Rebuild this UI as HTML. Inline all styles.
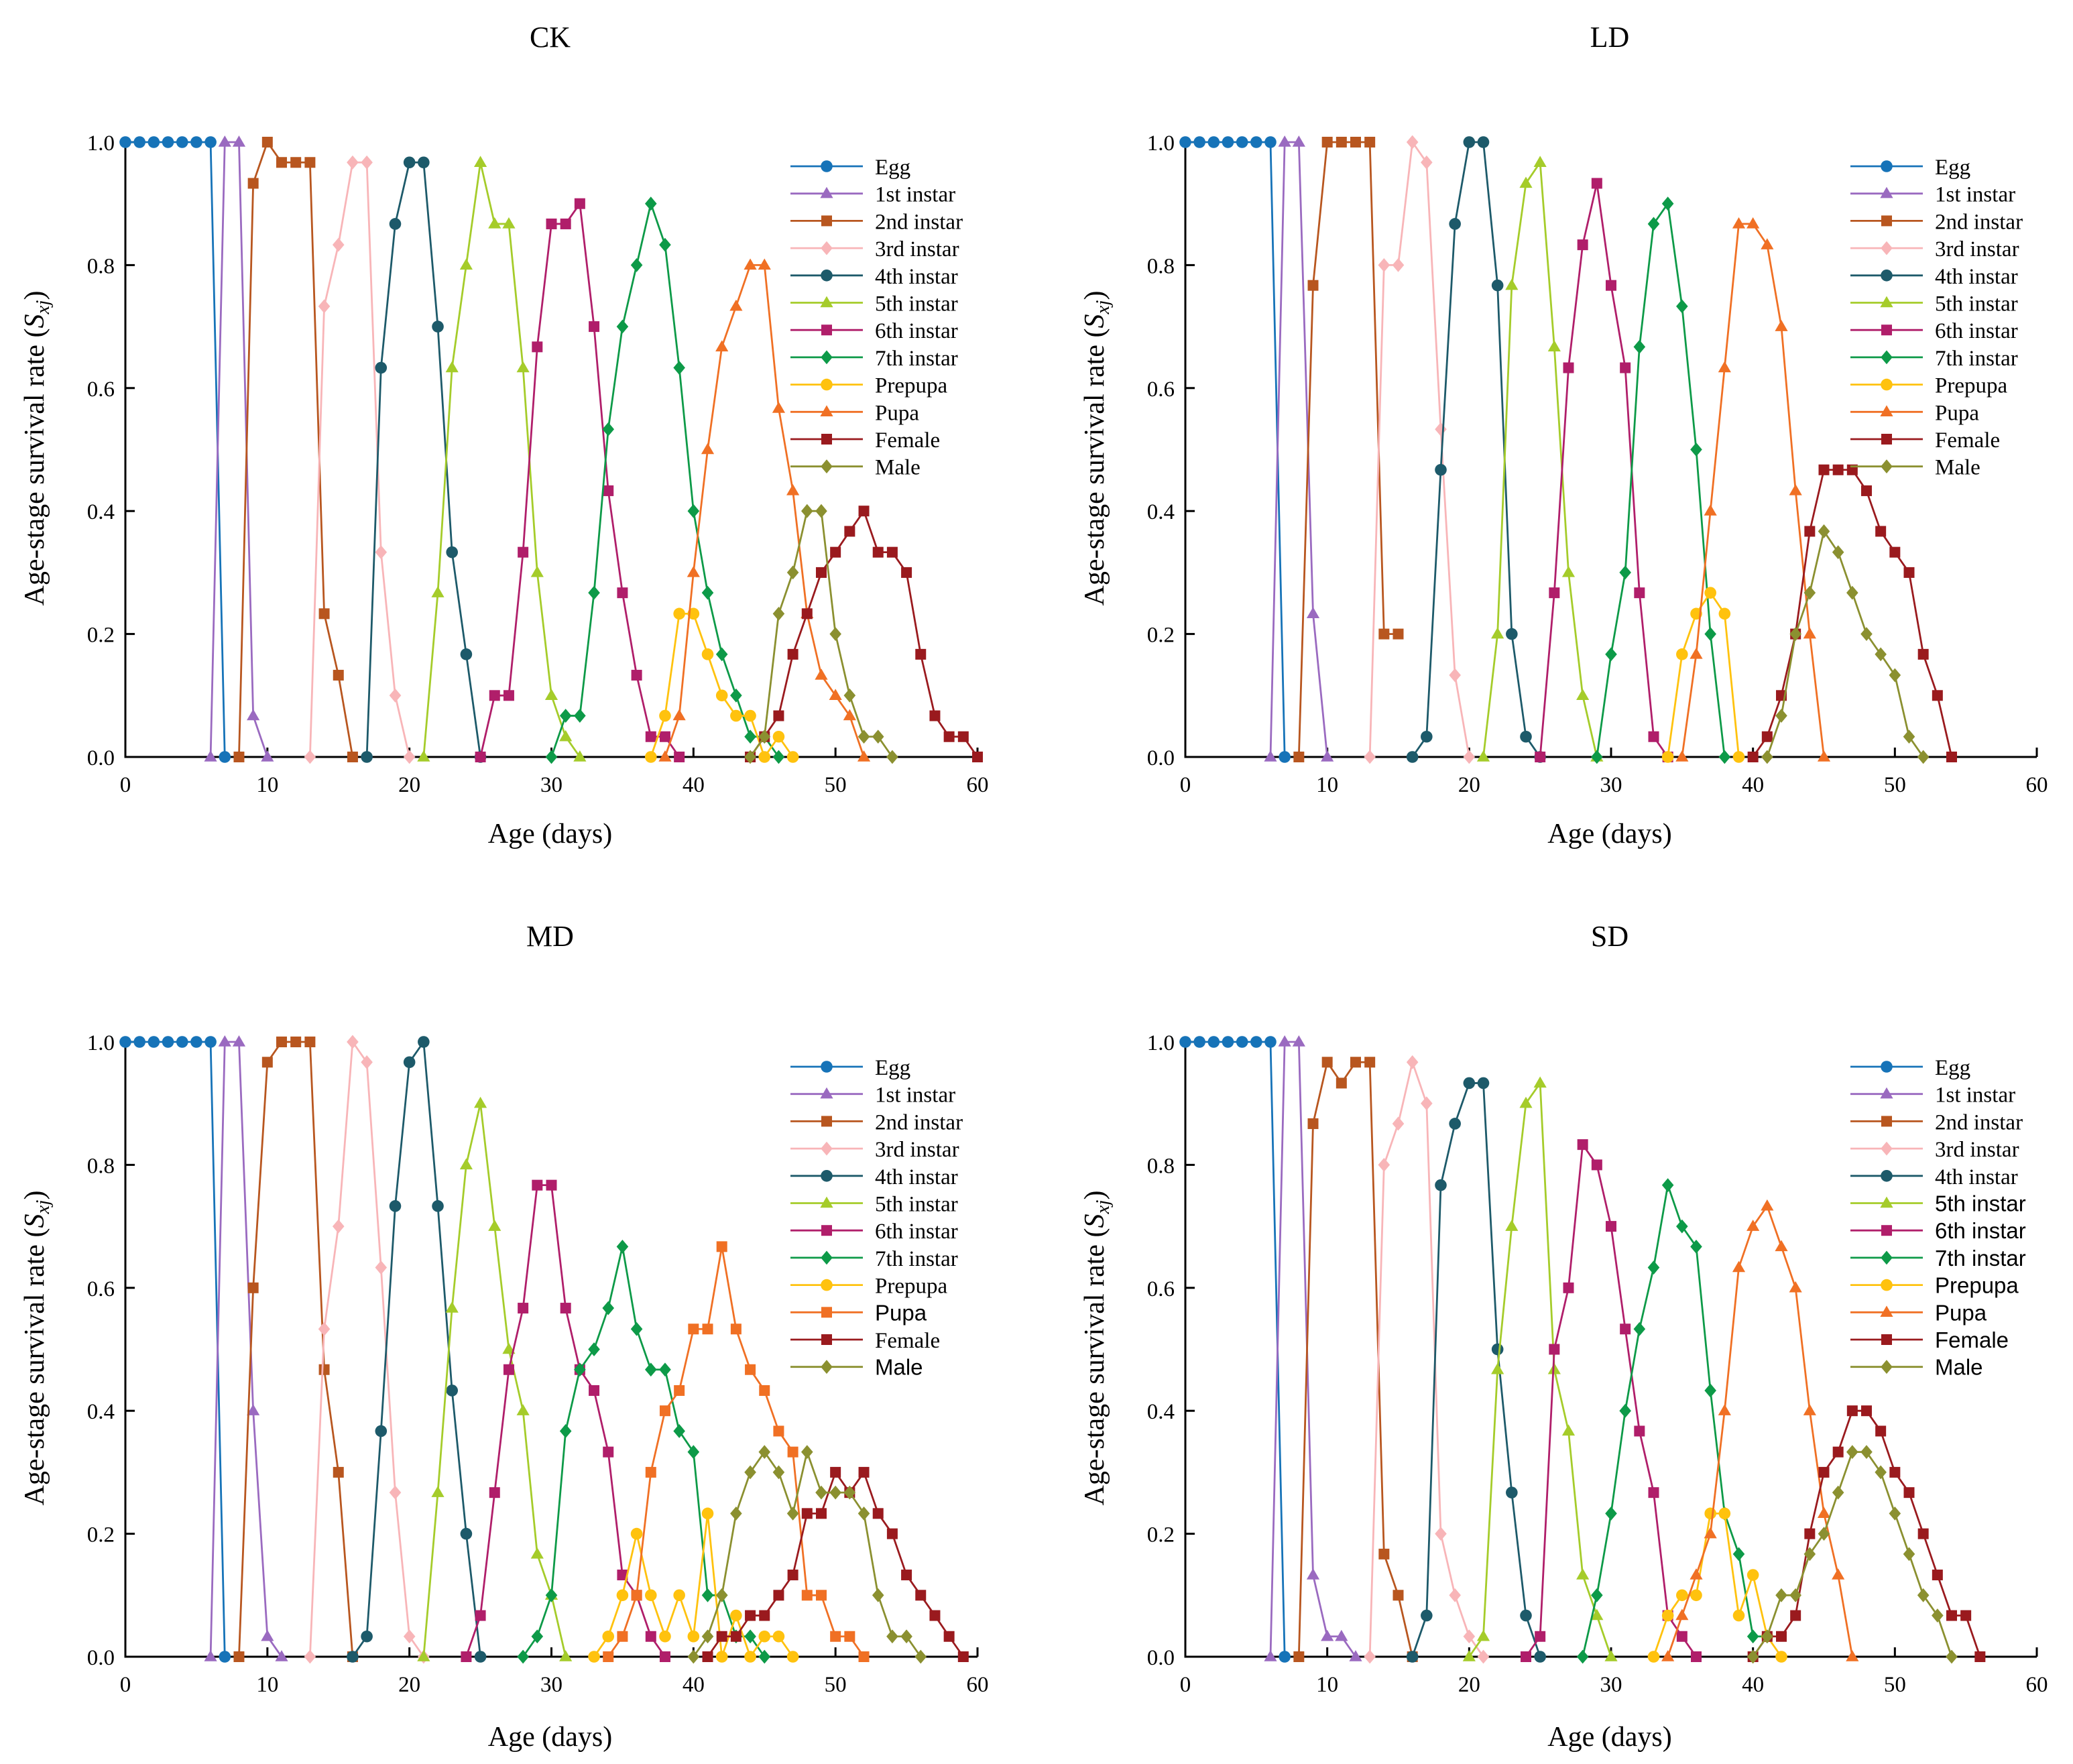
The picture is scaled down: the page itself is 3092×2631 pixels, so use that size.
<!DOCTYPE html>
<html><head><meta charset="utf-8">
<style>
html,body{margin:0;padding:0;background:#fff;}
svg{display:block;}
</style></head>
<body>
<svg id="chart" xmlns="http://www.w3.org/2000/svg" width="3092" height="2631" viewBox="0 0 3092 2631" font-family="'Liberation Serif', serif"></svg>
<script>
const stageNames = ["Egg","1st instar","2nd instar","3rd instar","4th instar","5th instar","6th instar","7th instar","Prepupa","Pupa","Female","Male"];
const xTicks = [0,10,20,30,40,50,60];
const yTicks = [0,0.2,0.4,0.6,0.8,1.0];
const yTickLabels = ["0.0","0.2","0.4","0.6","0.8","1.0"];

// CK
const ckStart = [0,6,8,13,17,21,25,30,37,38,44,44];
const ckEgg = [1,1,1,1,1,1,1,0];
const ck1st = [0,1,1,0.067,0];
const ck2nd = [0,0.933,1,0.967,0.967,0.967,0.233,0.133,0];
const ck3rd = [0,0.733,0.833,0.967,0.967,0.333,0.1,0];
const ck4th = [0,0.633,0.867,0.967,0.967,0.7,0.333,0.167,0];
const ck5th = [0,0.267,0.633,0.8,0.967,0.867,0.867,0.633,0.3,0.1,0.033,0];
const ck6th = [0,0.1,0.1,0.333,0.667,0.867,0.867,0.9,0.7,0.433,0.267,0.133,0.033,0.033,0];
const ck7th = [0,0.067,0.067,0.267,0.533,0.7,0.8,0.9,0.833,0.633,0.4,0.267,0.167,0.1,0.033,0.033,0];
const ckPrepupa = [0,0.067,0.233,0.233,0.167,0.1,0.067,0.067,0,0.033,0];
const ckPupa = [0,0.067,0.3,0.5,0.667,0.733,0.8,0.8,0.567,0.433,0.233,0.133,0.1,0.067,0];
const ckFemale = [0,0.033,0.067,0.167,0.233,0.3,0.333,0.367,0.4,0.333,0.333,0.3,0.167,0.067,0.033,0.033,0];
const ckMale = [0,0.033,0.233,0.3,0.4,0.4,0.2,0.1,0.033,0.033,0];

// LD
const ldStart = [0,6,8,13,16,21,25,29,34,35,40,41];
const ldEgg = [1,1,1,1,1,1,1,0];
const ld1st = [0,1,1,0.233,0];
const ld2nd = [0,0.767,1,1,1,1,0.2,0.2];
const ld3rd = [0,0.8,0.8,1,0.967,0.533,0.133,0];
const ld4th = [0,0.033,0.467,0.867,1,1,0.767,0.2,0.033,0];
const ld5th = [0,0.2,0.767,0.933,0.967,0.667,0.3,0.1,0];
const ld6th = [0,0.267,0.633,0.833,0.933,0.767,0.633,0.267,0.033,0];
const ld7th = [0,0.167,0.3,0.667,0.867,0.9,0.733,0.5,0.2,0];
const ldPrepupa = [0,0.167,0.233,0.267,0.233,0];
const ldPupa = [0,0.167,0.4,0.633,0.867,0.867,0.833,0.7,0.433,0.2,0];
const ldFemale = [0,0.033,0.1,0.2,0.367,0.467,0.467,0.467,0.433,0.367,0.333,0.3,0.167,0.1,0];
const ldMale = [0,0.067,0.2,0.267,0.367,0.333,0.267,0.2,0.167,0.133,0.033,0];

// MD
const mdStart = [0,6,8,13,16,21,24,28,33,34,41,40];
const mdEgg = [1,1,1,1,1,1,1,0];
const md1st = [0,1,1,0.4,0.033,0];
const md2nd = [0,0.6,0.967,1,1,1,0.467,0.3,0];
const md3rd = [0,0.533,0.7,1,0.967,0.633,0.267,0.033,0];
const md4th = [0,0.033,0.367,0.733,0.967,1,0.733,0.433,0.2,0];
const md5th = [0,0.267,0.567,0.8,0.9,0.7,0.5,0.4,0.167,0.1,0];
const md6th = [0,0.067,0.267,0.467,0.567,0.767,0.767,0.567,0.467,0.433,0.333,0.133,0.1,0.033,0];
const md7th = [0,0.033,0.1,0.367,0.467,0.5,0.567,0.667,0.533,0.467,0.467,0.367,0.333,0.1,0.1,0.033,0.033,0];
const mdPrepupa = [0,0.033,0.1,0.2,0.1,0.033,0.1,0.033,0.233,0,0.067,0,0.033,0.033,0];
const mdPupa = [0,0.033,0.1,0.3,0.4,0.433,0.533,0.533,0.667,0.533,0.467,0.433,0.367,0.333,0.1,0.1,0.033,0.033,0];
const mdFemale = [0,0.033,0.033,0.067,0.067,0.1,0.133,0.233,0.233,0.3,0.267,0.3,0.233,0.2,0.133,0.1,0.067,0.033,0];
const mdMale = [0,0.033,0.1,0.233,0.3,0.333,0.3,0.233,0.333,0.267,0.267,0.267,0.233,0.1,0.033,0.033,0];

// SD
const sdStart = [0,6,8,13,16,20,24,28,33,34,40,40];
const sdEgg = [1,1,1,1,1,1,1,0];
const sd1st = [0,1,1,0.133,0.033,0.033,0];
const sd2nd = [0,0.867,0.967,0.933,0.967,0.967,0.167,0.1,0];
const sd3rd = [0,0.8,0.867,0.967,0.9,0.2,0.1,0.033,0];
const sd4th = [0,0.067,0.767,0.867,0.933,0.933,0.5,0.267,0.067,0];
const sd5th = [0,0.033,0.467,0.7,0.9,0.933,0.467,0.367,0.133,0.067,0];
const sd6th = [0,0.033,0.5,0.6,0.833,0.8,0.7,0.533,0.367,0.267,0.067,0.033,0];
const sd7th = [0,0.1,0.233,0.4,0.533,0.633,0.767,0.7,0.667,0.433,0.233,0.167,0.033,0.033];
const sdPrepupa = [0,0.067,0.1,0.1,0.233,0.233,0.067,0.133,0.033,0];
const sdPupa = [0,0.067,0.133,0.2,0.4,0.633,0.7,0.733,0.667,0.6,0.4,0.233,0.133,0];
const sdFemale = [0,0.033,0.033,0.067,0.2,0.3,0.333,0.4,0.4,0.367,0.3,0.267,0.2,0.133,0.067,0.067,0];
const sdMale = [0,0.033,0.1,0.1,0.167,0.2,0.267,0.333,0.333,0.3,0.233,0.167,0.1,0.067,0];

const colors = ["#1673b8","#9a6ac0","#b8561f","#f8b5b8","#1d5a6a","#a5cc2a","#b01e6a","#0d9a48","#ffc20e","#f07024","#9a1a1e","#8b9030"];
const markersStd = ["circle","tri","square","diamond","circle","tri","square","diamond","circle","tri","square","diamond"];
const markersMD  = ["circle","tri","square","diamond","circle","tri","square","diamond","circle","square","square","diamond"];

const panels = [
  {name:"ck", title:"CK", x0:187, x1:1458, y0:1129, y1:212, legY:248, titleY:55, xlabY:1243, start:ckStart,
   series:[ckEgg,ck1st,ck2nd,ck3rd,ck4th,ck5th,ck6th,ck7th,ckPrepupa,ckPupa,ckFemale,ckMale], markers:markersStd, sans:[]},
  {name:"ld", title:"LD", x0:1768, x1:3038, y0:1129, y1:212, legY:248, titleY:55, xlabY:1243, start:ldStart,
   series:[ldEgg,ld1st,ld2nd,ld3rd,ld4th,ld5th,ld6th,ld7th,ldPrepupa,ldPupa,ldFemale,ldMale], markers:markersStd, sans:[]},
  {name:"md", title:"MD", x0:187, x1:1458, y0:2471, y1:1554, legY:1591, titleY:1396, xlabY:2590, start:mdStart,
   series:[mdEgg,md1st,md2nd,md3rd,md4th,md5th,md6th,md7th,mdPrepupa,mdPupa,mdFemale,mdMale], markers:markersMD, sans:[9,11]},
  {name:"sd", title:"SD", x0:1768, x1:3038, y0:2471, y1:1554, legY:1591, titleY:1396, xlabY:2590, start:sdStart,
   series:[sdEgg,sd1st,sd2nd,sd3rd,sd4th,sd5th,sd6th,sd7th,sdPrepupa,sdPupa,sdFemale,sdMale], markers:markersStd, sans:[5,6,7,8,9,10,11]}
];

const NS = "http://www.w3.org/2000/svg";
const svg = document.getElementById("chart");
function mk(tag, attrs, parent){
  const e = document.createElementNS(NS, tag);
  for (const k in attrs) e.setAttribute(k, attrs[k]);
  (parent||svg).appendChild(e);
  return e;
}
function marker(g, type, x, y, c, s){
  let e;
  if (type==="circle") e = mk("circle",{cx:x,cy:y,r:s*0.55,fill:c},g);
  else if (type==="square") e = mk("rect",{x:x-s*0.5,y:y-s*0.5,width:s,height:s,fill:c},g);
  else if (type==="tri") e = mk("polygon",{points:`${x},${y-s*0.62} ${x-s*0.6},${y+s*0.42} ${x+s*0.6},${y+s*0.42}`,fill:c},g);
  else e = mk("polygon",{points:`${x},${y-s*0.65} ${x+s*0.55},${y} ${x},${y+s*0.65} ${x-s*0.55},${y}`,fill:c},g);
  return e;
}

panels.forEach(p=>{
  const g = mk("g",{});
  
  
  const sx = v => p.x0 + (p.x1-p.x0)*v/60;
  const sy = v => p.y0 - (p.y0-p.y1)*v;
  const cx = (p.x0+p.x1)/2;

  const t = mk("text",{x:cx - 2, y:p.titleY+15, "font-size":44, "text-anchor":"middle", fill:"#000"},g);
  t.textContent = p.title;
  
  

  const ax = mk("path",{d:`M${p.x0},${p.y1-4} L${p.x0},${p.y0} L${p.x1},${p.y0}`, stroke:"#000", "stroke-width":3, fill:"none"},g);
  
  

  xTicks.forEach(v=>{
    const tk = mk("line",{x1:sx(v),y1:p.y0,x2:sx(v),y2:p.y0-14,stroke:"#000","stroke-width":3},g);
    
    
    const tl = mk("text",{x:sx(v),y:p.y0+52,"font-size":33,"text-anchor":"middle",fill:"#000"},g);
    tl.textContent = String(v);
    
    
  });
  yTicks.forEach((v,i)=>{
    const tk = mk("line",{x1:p.x0,y1:sy(v),x2:p.x0+14,y2:sy(v),stroke:"#000","stroke-width":3},g);
    
    
    const tl = mk("text",{x:p.x0-16,y:sy(v)+12,"font-size":33,"text-anchor":"end",fill:"#000"},g);
    tl.textContent = yTickLabels[i];
    
    
  });

  const xl = mk("text",{x:cx-2,y:p.xlabY+14,"font-size":42,"text-anchor":"middle",fill:"#000"},g);
  xl.textContent = "Age (days)";
  
  

  const ly = (p.y0+p.y1)/2 - 2;
  const yl = mk("text",{x:0,y:0,"font-size":42,"text-anchor":"middle",fill:"#000",transform:`translate(${p.x0-122},${ly}) rotate(-90)`},g);
  
  
  yl.appendChild(document.createTextNode("Age-stage survival rate ("));
  const ts = mk("tspan",{"font-style":"italic"},yl); ts.textContent = "S";
  const ts2 = mk("tspan",{"font-style":"italic","font-size":29,dy:8},yl); ts2.textContent = "xj";
  const ts3 = mk("tspan",{dy:-8},yl); ts3.textContent = ")";

  p.series.forEach((vals,si)=>{
    const sg = mk("g",{},g);
    
    
    const pts = vals.map((v,i)=>[sx(p.start[si]+i), sy(v)]);
    mk("polyline",{points:pts.map(q=>q.join(",")).join(" "),fill:"none",stroke:colors[si],"stroke-width":2.8,"stroke-linejoin":"round"},sg);
    pts.forEach(q=>{
      const m = marker(sg, p.markers[si], q[0], q[1], colors[si], 16);
      
      
    });
  });

  const lg = mk("g",{},g);
  
  
  stageNames.forEach((nm,i)=>{
    const y = p.legY + i*40.7;
    const eg = mk("g",{},lg);
    
    
    mk("line",{x1:p.x0+992,y1:y,x2:p.x0+1100,y2:y,stroke:colors[i],"stroke-width":2.8},eg);
    marker(eg, p.markers[i], p.x0+1046, y, colors[i], 16);
    const tx = mk("text",{x:p.x0+1118,y:y+12,"font-size":33,fill:"#000"},eg);
    if (p.sans.indexOf(i)>=0) tx.setAttribute("font-family","'Liberation Sans', sans-serif");
    tx.textContent = nm;
  });
});
</script>
</body></html>
